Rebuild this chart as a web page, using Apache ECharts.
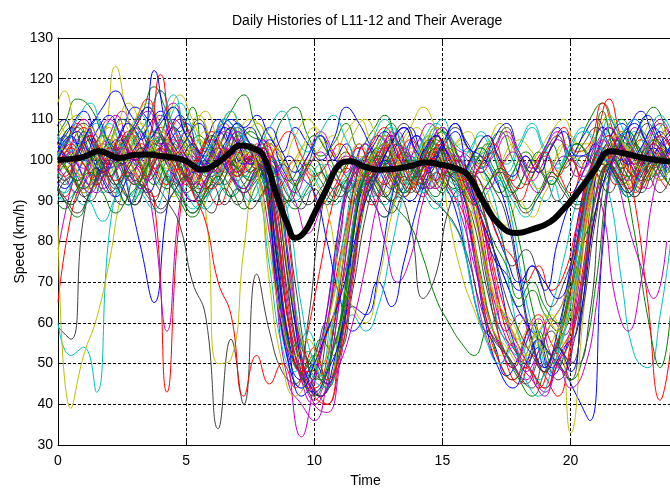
<!DOCTYPE html>
<html><head><meta charset="utf-8">
<script src="https://cdn.jsdelivr.net/npm/echarts@6/dist/echarts.min.js"></script>
<style>html,body{margin:0;padding:0;background:#fff}#c{width:670px;height:488px}</style>
</head><body><div id="c"></div>
<script>
// two sampling grids (half-hourly, the second offset by a quarter hour)
const hoursA = [0,0.5,1,1.5,2,2.5,3,3.5,4,4.5,5,5.5,6,6.5,7,7.5,8,8.5,9,9.5,10,10.5,11,11.5,12,12.5,13,13.5,14,14.5,15,15.5,16,16.5,17,17.5,18,18.5,19,19.5,20,20.5,21,21.5,22,22.5,23,23.5,24];
const hoursB = [-0.25,0.25,0.75,1.25,1.75,2.25,2.75,3.25,3.75,4.25,4.75,5.25,5.75,6.25,6.75,7.25,7.75,8.25,8.75,9.25,9.75,10.25,10.75,11.25,11.75,12.25,12.75,13.25,13.75,14.25,14.75,15.25,15.75,16.25,16.75,17.25,17.75,18.25,18.75,19.25,19.75,20.25,20.75,21.25,21.75,22.25,22.75,23.25,23.75];

const day00 = [103,108,102,95,98,104,97,92,99,106,109,101,96,102,107,100, 97,80,55,42,47,63,85,97, 104,98,93,99,106,101,95,88, 74,60,55,47,52,60,49,58,74,92, 101,108,103,96,100,107,102];
const day01 = [104,109,115,113,106,100,105,111,118,112,107,113,102,106,112,116, 108,104,110,113,106,101,104,109, 103,107,111,104,99,102,108,105, 100,97,103,107,100,94,99,104,98,103, 110,114,108,104,109,113,106];
const day02 = [65,86,96,102,105,99,94,100,108,103,96,91,97,103,99,95, 99,84,60,48,44,51,70,90, 96,102,98,92,95,101,104,97, 93,99,102,95,90,96,101,97,92,99, 106,115,105,99,103,97,93];
const day03 = [95,90,93,99,102,96,91,97,104,100,93,88,94,99,96,92, 97,101,95,90,94,99,93,96, 100,94,89,95,98,93,90,86, 80,66,58,63,55,50,57,64,76,90, 98,103,96,92,99,104,97];
const day04 = [78,93,104,99,106,112,105,99,103,110,106,98,101,107,104,99, 105,98,74,50,41,48,66,88, 104,100,107,101,97,103,108,102, 96,86,70,58,62,54,48,55,68,85, 99,106,101,108,104,99,105];
const day05 = [102,108,111,105,101,107,114,109,104,110,116,110,104,108,112,106, 109,104,100,106,110,105,101,107, 110,104,99,103,108,113,108,102, 105,100,104,109,103,98,102,107,110,104, 104,110,106,101,105,110,105];
const day06 = [59,56,86,95,100,93,89,96,103,98,92,96,101,94,99,104, 98,88,66,51,46,58,82,96, 101,94,90,97,102,96,92,99, 95,101,97,91,94,100,96,90,95,101, 97,92,98,104,99,95,100];
const day07 = [101,106,99,94,99,105,92,78,65,88,102,97,104,110,103,97, 100,105,98,94,99,106,101,96, 93,99,104,100,95,101,106,99, 95,90,84,70,56,50,54,47,52,68, 90,101,96,102,107,101,95];
const day08 = [102,108,103,98,104,110,107,100,106,113,108,101,97,103,109,106, 104,93,70,54,49,44,56,80, 98,104,109,102,97,103,107,101, 95,86,78,70,64,68,62,58,66,82, 98,105,110,104,99,106,102];
const day09 = [96,91,97,102,98,92,97,94,90,43,86,99,94,89,95,101, 97,91,94,100,96,89,93,98, 94,89,96,101,95,91,97,93, 88,78,63,54,49,57,62,55,50,70, 92,99,94,100,105,98,93];
const day10 = [60,52,54,43,82,97,104,99,94,101,107,100,95,99,105,101, 96,68,50,44,52,60,74,88, 95,101,96,92,98,104,99,94, 98,103,97,93,99,95,90,96,102,98, 103,97,101,107,102,96,100];
const day11 = [105,99,95,101,107,111,104,99,84,58,89,101,96,103,108,102, 98,104,100,95,101,107,102,97, 104,98,102,107,100,96,101,94, 86,74,62,55,50,46,53,61,57,72, 90,101,106,100,96,103,99];
const day12 = [84,39,52,61,75,92,99,104,96,91,98,105,99,93,97,102, 99,94,90,96,101,95,99,92, 96,101,97,91,95,100,103,97, 93,94,88,84,90,86,92,97,101,95, 98,104,99,93,97,102,96];
const day13 = [99,94,101,106,99,93,98,103,95,90,84,70,62,34,56,40, 72,58,48,45,60,86,97,102, 96,101,106,99,94,98,104,97, 92,84,68,58,54,49,56,52,64,80, 97,103,98,104,99,105,100];
const day14 = [103,108,112,106,101,107,113,110,104,108,103,99,104,110,107,102, 96,74,52,46,50,45,55,64, 62,72,90,101,106,100,104,109, 103,98,105,109,102,97,103,108,101,106, 110,104,100,106,111,105,101];
const day15 = [95,90,86,92,98,94,89,93,101,96,90,86,91,97,93,88, 94,99,92,88,93,97,91,95, 91,96,92,88,84,76,66,60, 55,52,58,50,46,52,58,50,62,80, 95,101,96,91,97,102,95];
const day16 = [98,104,108,102,96,101,109,115,107,101,96,102,106,100,95,101, 104,99,80,52,42,40,58,84, 100,106,101,95,99,105,102,97, 97,90,74,62,54,48,44,52,58,70, 88,101,107,101,96,102,106];
const day17 = [93,99,104,97,92,98,103,107,100,95,101,97,91,96,103,99, 95,89,64,52,58,49,72,94, 99,94,98,104,100,93,97,102, 95,100,102,96,84,66,55,48,52,62, 84,100,98,93,99,104,98];
const day18 = [106,101,98,104,110,106,100,105,111,108,102,98,104,109,103,100, 105,68,45,40,36,46,66,88, 101,106,103,98,104,109,104,99, 103,98,101,106,100,95,100,105,101,96, 102,108,104,99,105,110,104];
const day19 = [108,117,106,100,104,123,110,102,96,101,106,100,94,98,104,97, 102,97,93,99,104,100,95,99, 104,99,94,97,102,98,93,99, 104,100,95,99,104,98,93,98,104,101, 97,103,99,94,100,105,99];
const day20 = [94,99,103,97,92,96,101,95,99,104,98,93,97,102,96,100, 97,91,70,55,48,45,60,83, 96,91,97,102,98,93,96,100, 95,97,93,86,70,55,48,51,46,70, 92,99,95,101,97,92,98];
const day21 = [106,110,104,108,113,117,112,107,102,106,111,105,101,106,110,108, 111,106,102,108,104,100,105,113, 109,103,99,104,108,102,106,101, 96,90,82,74,66,60,56,52,48,42, 36,78,104,108,112,106,103];
const day22 = [104,99,93,97,103,100,95,101,106,99,95,100,106,103,98,104, 100,78,55,48,52,46,58,80, 97,103,99,94,100,105,100,95, 99,103,98,92,80,64,54,50,46,52, 70,96,106,100,95,99,104];
const day23 = [98,103,109,104,99,102,107,103,98,104,110,105,99,103,108,101, 104,86,58,50,44,52,68,84, 98,104,108,102,97,101,106,100, 96,102,106,99,95,101,97,103,108,102, 104,114,106,101,97,103,108];
const day24 = [97,93,89,95,100,97,91,95,101,97,92,88,93,98,94,90, 95,100,96,91,94,99,95,92, 97,101,95,91,96,100,94,91, 93,80,64,55,52,58,50,56,68,86, 98,92,70,52,49,62,85];
const day25 = [101,96,92,98,104,100,95,101,106,99,94,98,103,97,101,105, 98,82,58,50,45,55,74,93, 100,95,99,104,98,93,97,102, 90,70,56,50,55,48,53,60,66,82, 95,88,66,58,70,92,101];
const day26 = [110,104,99,103,108,104,110,114,109,103,106,111,105,101,106,110, 108,104,99,103,108,104,100,106, 110,105,100,104,108,103,99,104, 107,101,96,100,105,102,97,101,106,102, 106,111,105,101,105,109,104];
const day27 = [97,101,94,90,96,102,98,93,99,105,99,94,98,103,96,92, 95,99,82,56,44,42,58,80, 98,102,96,92,97,101,95,99, 97,88,70,56,50,45,51,58,52,50, 62,92,101,96,92,98,103];
const day28 = [104,100,107,102,98,103,109,113,106,100,105,109,103,99,104,108, 102,97,101,96,92,80,66,58, 62,70,64,75,88,97,103,99, 96,92,84,76,70,74,68,80,90,97, 104,99,106,110,104,100,106];
const day29 = [99,104,108,102,96,101,106,99,94,100,105,102,97,103,108,101, 99,86,62,50,47,56,52,70, 91,99,104,98,94,100,105,99, 95,99,104,97,92,97,102,94,99,104, 100,95,101,107,101,96,102];
const day30 = [101,96,92,98,103,99,105,110,117,108,101,96,93,98,102,97, 101,90,64,50,44,40,52,76, 94,100,95,91,97,102,96,100, 97,84,64,50,45,52,47,42,55,74, 96,102,97,92,98,103,98];
const day31 = [88,92,96,90,85,91,96,92,88,94,99,93,88,92,97,93, 96,92,87,93,98,93,89,92, 95,90,86,91,96,92,88,93, 91,87,92,95,90,86,91,95,89,93, 97,101,95,91,97,100,96];
const day32 = [101,106,110,104,99,103,108,103,110,114,106,100,97,102,107,104, 100,78,50,32,45,60,80,95, 92,98,104,108,101,97,103,99, 94,86,70,60,54,48,43,50,58,72, 91,100,106,102,97,103,107];
const day33 = [98,103,107,100,95,99,104,97,103,99,104,96,88,50,51,78, 99,104,100,94,98,103,106,99, 101,96,92,98,103,99,94,99, 96,88,74,63,58,52,55,60,66,80, 94,101,96,102,107,101,96];
const day34 = [100,106,109,103,99,104,108,113,107,101,105,110,104,100,106,102, 97,85,60,48,52,60,54,68, 86,97,104,109,104,99,103,108, 104,99,103,108,101,97,102,106,100,104, 108,103,98,104,109,104,101];
const day35 = [98,93,97,102,95,91,96,100,105,99,94,90,95,100,96,93, 98,100,86,60,46,42,50,66, 90,96,100,94,90,95,101,97, 93,76,58,48,44,50,56,49,54,58, 80,101,96,92,98,103,97];
const day36 = [97,101,106,100,96,103,108,105,99,94,100,106,102,97,101,107, 104,99,95,100,106,102,97,101, 96,100,105,101,97,102,107,103, 88,72,58,52,46,42,48,55,62,80, 97,101,96,82,62,49,70];
const day37 = [99,103,97,93,98,104,100,95,91,97,102,98,93,97,103,100, 102,88,66,52,48,54,62,74, 92,99,103,97,93,98,102,96, 98,94,88,80,76,70,74,68,72,84, 96,100,104,98,93,99,102];
const day38 = [106,102,105,109,104,100,105,110,117,108,103,99,104,110,107,103, 101,94,76,56,46,44,60,84, 98,103,108,104,100,105,110,104, 102,107,103,99,104,109,103,99,104,108, 104,110,105,101,106,111,106];
const day39 = [96,100,105,99,93,97,102,98,104,100,94,90,95,101,97,92, 96,101,97,92,98,102,96,93, 99,95,91,97,101,96,93,98, 91,76,60,54,49,55,61,52,48,66, 90,101,96,84,74,66,80];
const day40 = [101,97,92,98,104,109,103,98,102,97,101,105,100,96,101,98, 103,94,72,56,50,46,58,76, 95,100,96,101,98,103,99,96, 95,82,66,61,56,60,53,58,33,62, 92,99,104,100,96,101,97];
const day41 = [95,91,87,92,98,94,89,94,90,96,92,87,91,95,99,94, 90,95,99,94,89,93,97,92, 95,90,86,91,84,66,72,88, 93,89,94,97,92,87,91,96,92,88, 94,99,95,91,96,101,96];
const day42 = [104,99,105,110,104,99,103,108,112,106,101,97,102,108,104,99, 103,78,56,47,43,48,56,72, 92,98,104,108,102,98,103,107, 96,86,76,72,68,74,70,66,72,88, 99,105,109,103,99,104,108];
const day43 = [104,99,95,100,106,102,96,101,107,103,98,93,98,104,100,96, 100,92,70,54,49,46,54,66, 82,95,99,104,98,94,99,103, 97,101,96,92,97,102,98,94,99,104, 101,97,102,107,102,98,103];
const day44 = [100,104,99,96,101,105,100,104,121,102,96,101,107,102,97,101, 98,103,107,101,96,99,104,100, 96,101,106,100,95,99,104,99, 92,86,72,58,52,48,44,50,56,70, 88,100,103,90,66,41,58];
const day45 = [96,92,97,102,98,93,89,95,101,97,92,96,101,95,91,96, 94,74,54,48,53,47,61,85, 96,91,95,100,96,92,97,101, 96,100,95,84,64,52,46,51,57,76, 94,100,95,91,97,101,96];
const day46 = [102,106,110,104,99,103,108,112,106,102,107,100,97,103,108,104, 100,97,76,52,40,38,50,72, 94,101,106,102,98,104,108,103, 101,97,102,107,102,98,103,107,101,98, 104,108,103,99,104,109,104];
const day47 = [99,103,97,93,98,104,100,95,105,101,97,102,107,101,96,102, 98,70,50,42,46,54,66,82, 95,100,104,99,94,98,103,86, 72,63,56,52,56,61,55,50,58,68, 88,98,103,98,94,100,104];
const day48 = [93,89,94,98,93,89,95,91,87,92,96,90,94,89,93,88, 92,96,91,88,93,89,94,90, 95,91,87,92,96,91,88,84, 76,64,56,52,47,44,50,46,52,70, 92,99,95,91,96,100,95];
const day49 = [98,103,107,101,97,104,109,105,122,108,101,97,102,107,103,99, 103,108,102,97,101,106,100,104, 98,103,107,101,97,102,106,101, 97,102,106,100,96,101,97,103,107,101, 102,108,104,99,103,108,102];
const day50 = [101,96,93,99,104,98,94,99,105,101,96,92,97,102,98,95, 100,86,60,47,42,49,60,82, 97,101,96,92,98,103,97,93, 95,88,80,74,66,70,64,60,68,80, 88,99,94,98,103,97,93];
const day51 = [100,96,101,106,101,95,99,104,98,94,100,92,85,70,62,42, 52,45,50,44,58,74,90,98, 103,98,94,100,105,99,95,101, 94,78,60,50,46,49,44,52,60,78, 96,102,97,93,99,104,100];
const day52 = [101,106,100,104,109,103,99,104,110,116,106,101,98,103,108,102, 101,96,86,64,50,46,52,62, 58,64,78,92,101,106,101,97, 102,106,101,97,103,108,102,98,103,107, 105,100,106,110,104,100,105];
const day53 = [97,101,96,92,98,103,97,93,99,104,98,94,99,103,96,93, 98,101,96,90,82,88,96,101, 97,92,80,70,76,90,99,96, 101,97,93,98,102,96,92,97,101,96, 100,105,99,95,100,104,98];
const day54 = [104,100,96,101,106,102,97,101,107,103,99,95,100,105,99,103, 99,103,97,100,95,88,72,64, 60,70,86,97,101,106,100,96, 89,70,58,54,50,56,62,58,66,82, 97,102,107,103,99,95,100];
const day55 = [99,95,100,105,99,94,98,103,97,93,99,104,98,94,99,104, 100,96,90,70,50,42,47,64, 84,96,101,96,92,98,103,97, 92,96,90,82,74,78,72,64,70,80, 93,100,105,100,95,101,97];
const day56 = [102,106,101,107,111,105,100,104,109,113,106,102,99,104,109,104, 100,72,50,44,50,58,66,78, 90,97,104,108,102,99,104,109, 103,101,96,88,72,56,49,54,48,66, 88,98,104,109,104,100,106];
const day57 = [92,88,93,97,92,87,91,95,101,95,91,87,92,96,91,94, 98,93,89,94,99,95,90,95, 99,95,91,96,100,95,91,97, 93,89,94,98,93,88,92,97,93,89, 95,112,101,96,100,105,99];
const day58 = [98,103,99,94,100,106,101,96,103,99,94,100,105,101,96,100, 103,84,60,48,54,46,52,70, 92,99,104,98,94,100,105,99, 95,99,104,97,93,98,102,96,100,95, 101,106,100,96,102,106,101];
const day59 = [108,104,110,114,107,102,106,111,105,109,114,108,103,107,112,106, 103,108,112,106,102,107,111,105, 100,105,110,104,100,105,109,103, 84,66,55,50,54,46,42,48,58,72, 95,104,110,105,101,106,110];
const day60 = [97,102,96,92,98,103,99,95,100,105,99,94,98,103,97,100, 102,86,62,46,40,44,50,60, 74,90,98,103,97,93,99,101, 93,80,66,56,50,46,42,50,44,48, 64,94,103,97,93,99,102];
const day61 = [102,98,103,108,103,99,104,109,103,98,102,107,112,105,100,104, 99,78,60,52,56,50,62,80, 96,101,106,100,97,103,108,102, 95,86,72,64,60,54,58,62,55,70, 90,101,106,102,98,103,108];
const day62 = [92,96,91,95,100,94,89,93,88,92,96,91,87,93,89,95, 98,94,90,96,100,95,91,96, 99,94,90,96,92,97,93,97, 97,90,78,66,58,52,48,54,50,64, 86,99,95,91,97,101,96];

// thick black average curve
const avgHours = [0,0.5,1,1.6,2.4,3,3.5,4,4.5,5,5.6,6.2,6.7,7.1,7.6,8,8.5,9,9.25,9.6,10,10.5,11,11.4,12,12.6,13.2,13.8,14.3,15,15.6,16,16.6,17.2,17.9,18.5,19.2,19.7,20.1,20.5,20.9,21.6,22.2,22.8,23.4,24];
const avgSpeed = [100.0,100.3,100.8,102.2,100.5,101.3,101.4,101.0,100.6,99.8,97.7,99.2,101.8,103.6,102.9,101.2,92.0,83.5,80.9,82.2,86.8,93.2,99.0,99.7,98.3,97.6,97.9,98.6,99.4,98.8,97.8,96.3,89.8,84.3,82.1,83.0,84.8,87.8,90.6,93.8,97.2,102.2,101.5,100.6,100.0,99.6];

const xTicks = {min: 0, max: 24, step: 5};
const yTicks = {min: 30, max: 130, step: 10};
const matlabColors = ['#0000FF','#008000','#FF0000','#00BFBF','#BF00BF','#BFBF00','#404040'];

const days = [day00,day01,day02,day03,day04,day05,day06,day07,day08,day09,day10,day11,day12,day13,day14,day15,day16,day17,day18,day19,day20,day21,day22,day23,day24,day25,day26,day27,day28,day29,day30,day31,day32,day33,day34,day35,day36,day37,day38,day39,day40,day41,day42,day43,day44,day45,day46,day47,day48,day49,day50,day51,day52,day53,day54,day55,day56,day57,day58,day59,day60,day61,day62];

const FONT = 'Liberation Sans, Arial, Helvetica, sans-serif';
const series = days.map((d, k) => {
  const hrs = (k % 2 === 0) ? hoursA : hoursB;
  return {
    type: 'line',
    data: hrs.map((h, i) => [h, d[i]]),
    symbol: 'none',
    smooth: 0.5,
    silent: true,
    clip: true,
    lineStyle: {width: 1, color: matlabColors[k % 7]},
    z: 2
  };
});
series.push({
  type: 'line',
  data: avgHours.map((h, i) => [h, avgSpeed[i]]),
  symbol: 'none',
  smooth: 0.5,
  silent: true,
  lineStyle: {width: 6, color: '#000'},
  z: 5
});

const chart = echarts.init(document.getElementById('c'), null, {renderer: 'canvas'});
chart.setOption({
  animation: false,
  backgroundColor: '#fff',
  title: {
    text: 'Daily Histories of L11-12 and Their Average',
    left: 232, top: 14, padding: 0,
    textStyle: {fontSize: 14, fontWeight: 'normal', color: '#000', fontFamily: FONT}
  },
  grid: {left: 58, top: 38, width: 615, height: 407, containLabel: false, outerBoundsMode: 'none'},
  xAxis: [{
    type: 'value', min: xTicks.min, max: xTicks.max, interval: xTicks.step,
    position: 'bottom',
    name: 'Time', nameLocation: 'middle', nameGap: 29, nameMoveOverlap: false,
    nameTextStyle: {fontSize: 14, color: '#000', fontFamily: FONT},
    axisLine: {show: true, onZero: false, lineStyle: {color: '#000', width: 1}},
    axisTick: {show: true, inside: true, length: 5, lineStyle: {color: '#000'}},
    axisLabel: {color: '#000', fontSize: 14, fontFamily: FONT, margin: 9, showMaxLabel: false},
    splitLine: {show: true, lineStyle: {color: '#000', width: 1, type: [3, 2]}}
  }, {
    type: 'value', min: xTicks.min, max: xTicks.max, interval: xTicks.step,
    position: 'top',
    axisLine: {show: true, onZero: false, lineStyle: {color: '#000', width: 1}},
    axisTick: {show: true, inside: true, length: 5, lineStyle: {color: '#000'}},
    axisLabel: {show: false},
    splitLine: {show: false}
  }],
  yAxis: {
    type: 'value', min: yTicks.min, max: yTicks.max, interval: yTicks.step,
    name: 'Speed (km/h)', nameLocation: 'middle', nameGap: 31, nameMoveOverlap: false,
    nameTextStyle: {fontSize: 14, color: '#000', fontFamily: FONT},
    axisLine: {show: true, onZero: false, lineStyle: {color: '#000', width: 1}},
    axisTick: {show: true, inside: true, length: 5, lineStyle: {color: '#000'}},
    axisLabel: {color: '#000', fontSize: 14, fontFamily: FONT, margin: 5},
    splitLine: {show: true, lineStyle: {color: '#000', width: 1, type: [3, 2]}}
  },
  series: series
});
</script>
</body></html>
